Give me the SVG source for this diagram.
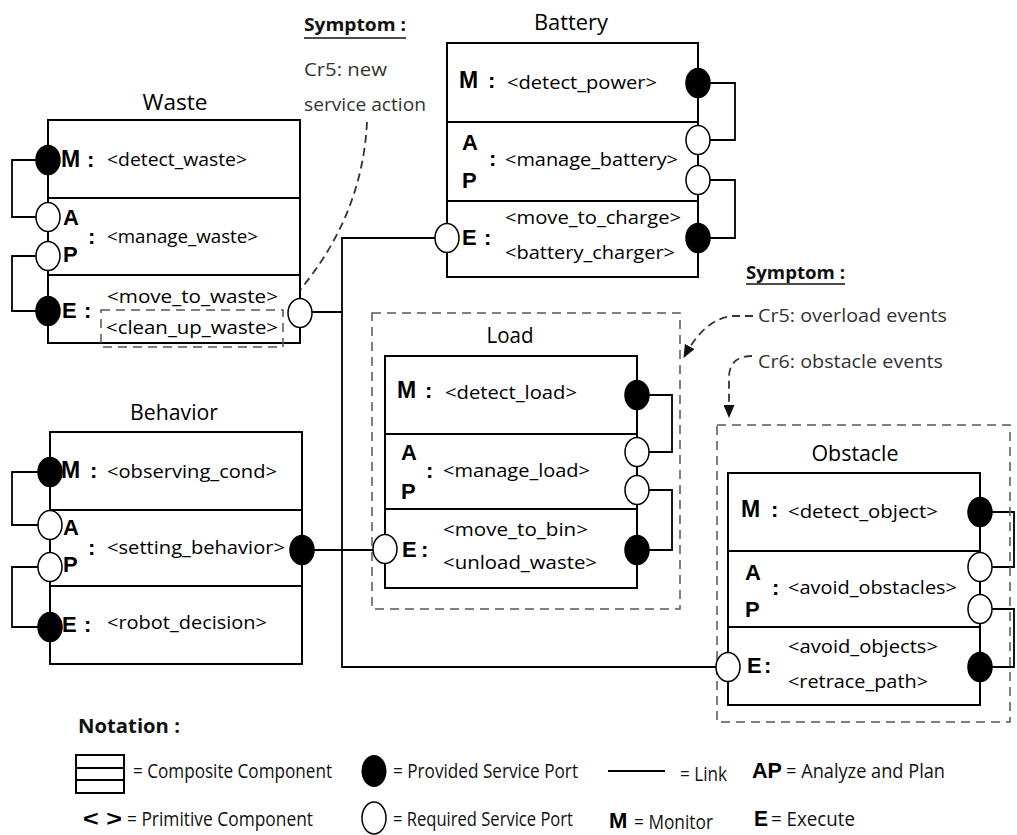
<svg xmlns="http://www.w3.org/2000/svg" width="1017" height="835" viewBox="0 0 1017 835">
<style>
.bg{fill:#fff}
.box{fill:#fff;stroke:#000;stroke-width:2}
.dv{stroke:#000;stroke-width:2}
.pf{fill:#000;stroke:#000;stroke-width:1.5}
.pr{fill:#fff;stroke:#000;stroke-width:1.5}
.ln{fill:none;stroke:#000;stroke-width:1.8}
.dbox{fill:none;stroke:#555;stroke-width:1.5;stroke-dasharray:9 6}
.arr{fill:none;stroke:#333;stroke-width:1.8;stroke-dasharray:8 5}
.t{font-family:"Open Sans","Liberation Sans",sans-serif;font-size:19px;fill:#000}
.ttl{font-family:"Open Sans","Liberation Sans",sans-serif;font-size:22px;fill:#000}
.b{font-family:"Liberation Sans",Arial,sans-serif;font-weight:bold;font-size:22px;fill:#000}
.bm{font-family:"Liberation Sans",Arial,sans-serif;font-weight:bold;font-size:23px;fill:#000}
.sy{font-family:"Open Sans","Liberation Sans",sans-serif;font-weight:bold;font-size:18px;fill:#111}
.cr{font-family:"Open Sans","Liberation Sans",sans-serif;font-size:19px;fill:#333}
.lg{font-family:"Open Sans","Liberation Sans",sans-serif;font-size:20px;fill:#111}
</style>
<defs>
<marker id="ah" markerUnits="userSpaceOnUse" markerWidth="13" markerHeight="11" viewBox="0 0 13 11" refX="12" refY="5.5" orient="auto">
<path d="M0,0 L13,5.5 L0,11 z" fill="#111" stroke="none"/>
</marker>
</defs>
<rect class="bg" x="0" y="0" width="1017" height="835"/>

<g id="connectors">
<path class="ln" d="M48,160 H12 V217 H48 M48,256 H12 V311 H48"/>
<path class="ln" d="M698,83 H735 V140 H698 M698,180 H735 V238 H698"/>
<path class="ln" d="M637,395 H672 V452 H637 M637,490 H672 V550 H637"/>
<path class="ln" d="M50,472 H12 V525 H50 M50,567 H12 V627 H50"/>
<path class="ln" d="M980,512 H1014 V567 H980 M980,609 H1014 V667 H980"/>
<path class="ln" d="M300,312 H342"/>
<path class="ln" d="M447,238 H342 V667 H728"/>
<path class="ln" d="M302,550 H385"/>
</g>

<g id="annotations">
<text class="sy" x="304" y="31" textLength="102" lengthAdjust="spacingAndGlyphs">Symptom :</text>
<line x1="304" y1="38" x2="406" y2="38" stroke="#111" stroke-width="1.5"/>
<text class="cr" x="304" y="76" textLength="83" lengthAdjust="spacingAndGlyphs">Cr5: new</text>
<text class="cr" x="304" y="111" textLength="122" lengthAdjust="spacingAndGlyphs">service action</text>
<path class="arr" d="M367,122 Q362,225 285,307" marker-end="url(#ah)"/>
<text class="sy" x="746" y="279" textLength="99" lengthAdjust="spacingAndGlyphs">Symptom :</text>
<line x1="746" y1="284" x2="845" y2="284" stroke="#111" stroke-width="1.5"/>
<text class="cr" x="758" y="322" textLength="189" lengthAdjust="spacingAndGlyphs">Cr5: overload events</text>
<text class="cr" x="758" y="368" textLength="185" lengthAdjust="spacingAndGlyphs">Cr6: obstacle events</text>
<path class="arr" d="M753,316 H733 Q705,318 684,357" marker-end="url(#ah)"/>
<path class="arr" d="M752,356 Q730,356 729,376 V417" marker-end="url(#ah)"/>
</g>

<g id="waste">
<text class="ttl" x="175" y="110" text-anchor="middle" textLength="65" lengthAdjust="spacingAndGlyphs">Waste</text>
<rect class="box" x="48" y="120" width="252" height="223"/>
<line class="dv" x1="48" y1="198" x2="300" y2="198"/>
<line class="dv" x1="48" y1="275" x2="300" y2="275"/>
<text class="bm" x="61" y="167">M</text><text class="b" x="87" y="167">:</text>
<text class="t" x="107" y="166" textLength="140" lengthAdjust="spacingAndGlyphs">&lt;detect_waste&gt;</text>
<text class="b" x="63" y="225">A</text><text class="b" x="63" y="262">P</text><text class="b" x="88" y="244">:</text>
<text class="t" x="107" y="243" textLength="151" lengthAdjust="spacingAndGlyphs">&lt;manage_waste&gt;</text>
<text class="b" x="62" y="318">E</text><text class="b" x="84" y="318">:</text>
<text class="t" x="107" y="303" textLength="171" lengthAdjust="spacingAndGlyphs">&lt;move_to_waste&gt;</text>
<text class="t" x="106" y="334" textLength="172" lengthAdjust="spacingAndGlyphs">&lt;clean_up_waste&gt;</text>
<rect class="dbox" x="101" y="310" width="182" height="37"/>
<ellipse class="pf" cx="48" cy="160" rx="12" ry="14.5"/>
<ellipse class="pr" cx="48" cy="217" rx="12" ry="14.5"/>
<ellipse class="pr" cx="48" cy="256" rx="12" ry="14.5"/>
<ellipse class="pf" cx="48" cy="311" rx="12" ry="14.5"/>
<ellipse class="pr" cx="300" cy="313" rx="12" ry="14.5"/>
</g>

<g id="battery">
<text class="ttl" x="571" y="30" text-anchor="middle" textLength="74" lengthAdjust="spacingAndGlyphs">Battery</text>
<rect class="box" x="447" y="43" width="251" height="234"/>
<line class="dv" x1="447" y1="122" x2="698" y2="122"/>
<line class="dv" x1="447" y1="201" x2="698" y2="201"/>
<text class="bm" x="459" y="88">M</text><text class="b" x="488" y="88">:</text>
<text class="t" x="507" y="89" textLength="150" lengthAdjust="spacingAndGlyphs">&lt;detect_power&gt;</text>
<text class="b" x="462" y="150">A</text><text class="b" x="462" y="188">P</text><text class="b" x="489" y="166">:</text>
<text class="t" x="505" y="166" textLength="173" lengthAdjust="spacingAndGlyphs">&lt;manage_battery&gt;</text>
<text class="b" x="462" y="245">E</text><text class="b" x="484" y="245">:</text>
<text class="t" x="505" y="224" textLength="176" lengthAdjust="spacingAndGlyphs">&lt;move_to_charge&gt;</text>
<text class="t" x="505" y="259" textLength="170" lengthAdjust="spacingAndGlyphs">&lt;battery_charger&gt;</text>
<ellipse class="pf" cx="698" cy="83" rx="12" ry="14.5"/>
<ellipse class="pr" cx="698" cy="140" rx="12" ry="14.5"/>
<ellipse class="pr" cx="698" cy="180" rx="12" ry="14.5"/>
<ellipse class="pf" cx="698" cy="238" rx="12" ry="14.5"/>
<ellipse class="pr" cx="447" cy="238" rx="12" ry="14.5"/>
</g>

<g id="load">
<rect class="dbox" x="372" y="313" width="308" height="296"/>
<text class="ttl" x="510" y="343" text-anchor="middle" textLength="47" lengthAdjust="spacingAndGlyphs">Load</text>
<rect class="box" x="385" y="356" width="252" height="232"/>
<line class="dv" x1="385" y1="434" x2="637" y2="434"/>
<line class="dv" x1="385" y1="509" x2="637" y2="509"/>
<text class="bm" x="397" y="398">M</text><text class="b" x="425" y="398">:</text>
<text class="t" x="445" y="399" textLength="132" lengthAdjust="spacingAndGlyphs">&lt;detect_load&gt;</text>
<text class="b" x="401" y="460">A</text><text class="b" x="401" y="499">P</text><text class="b" x="426" y="478">:</text>
<text class="t" x="443" y="477" textLength="147" lengthAdjust="spacingAndGlyphs">&lt;manage_load&gt;</text>
<text class="b" x="402" y="557">E</text><text class="b" x="421" y="557">:</text>
<text class="t" x="443" y="536" textLength="145" lengthAdjust="spacingAndGlyphs">&lt;move_to_bin&gt;</text>
<text class="t" x="443" y="569" textLength="154" lengthAdjust="spacingAndGlyphs">&lt;unload_waste&gt;</text>
<ellipse class="pf" cx="637" cy="395" rx="12" ry="14.5"/>
<ellipse class="pr" cx="637" cy="452" rx="12" ry="14.5"/>
<ellipse class="pr" cx="637" cy="490" rx="12" ry="14.5"/>
<ellipse class="pf" cx="637" cy="550" rx="12" ry="14.5"/>
<ellipse class="pr" cx="385" cy="549" rx="12" ry="14.5"/>
</g>

<g id="behavior">
<text class="ttl" x="174" y="420" text-anchor="middle" textLength="88" lengthAdjust="spacingAndGlyphs">Behavior</text>
<rect class="box" x="50" y="432" width="252" height="232"/>
<line class="dv" x1="50" y1="510" x2="302" y2="510"/>
<line class="dv" x1="50" y1="586" x2="302" y2="586"/>
<text class="bm" x="61" y="478">M</text><text class="b" x="90" y="478">:</text>
<text class="t" x="107" y="478" textLength="170" lengthAdjust="spacingAndGlyphs">&lt;observing_cond&gt;</text>
<text class="b" x="63" y="535">A</text><text class="b" x="63" y="572">P</text><text class="b" x="88" y="555">:</text>
<text class="t" x="107" y="554" textLength="178" lengthAdjust="spacingAndGlyphs">&lt;setting_behavior&gt;</text>
<text class="b" x="62" y="632">E</text><text class="b" x="84" y="632">:</text>
<text class="t" x="107" y="629" textLength="160" lengthAdjust="spacingAndGlyphs">&lt;robot_decision&gt;</text>
<ellipse class="pf" cx="50" cy="472" rx="12" ry="14.5"/>
<ellipse class="pr" cx="50" cy="525" rx="12" ry="14.5"/>
<ellipse class="pr" cx="50" cy="567" rx="12" ry="14.5"/>
<ellipse class="pf" cx="50" cy="627" rx="12" ry="14.5"/>
<ellipse class="pf" cx="302" cy="550" rx="12" ry="14.5"/>
</g>

<g id="obstacle">
<rect class="dbox" x="717" y="425" width="293" height="297"/>
<text class="ttl" x="855" y="461" text-anchor="middle" textLength="87" lengthAdjust="spacingAndGlyphs">Obstacle</text>
<rect class="box" x="728" y="473" width="252" height="232"/>
<line class="dv" x1="728" y1="551" x2="980" y2="551"/>
<line class="dv" x1="728" y1="627" x2="980" y2="627"/>
<text class="bm" x="741" y="517">M</text><text class="b" x="771" y="517">:</text>
<text class="t" x="788" y="518" textLength="150" lengthAdjust="spacingAndGlyphs">&lt;detect_object&gt;</text>
<text class="b" x="745" y="580">A</text><text class="b" x="745" y="617">P</text><text class="b" x="772" y="595">:</text>
<text class="t" x="788" y="594" textLength="169" lengthAdjust="spacingAndGlyphs">&lt;avoid_obstacles&gt;</text>
<text class="b" x="747" y="673">E</text><text class="b" x="764" y="673">:</text>
<text class="t" x="788" y="653" textLength="150" lengthAdjust="spacingAndGlyphs">&lt;avoid_objects&gt;</text>
<text class="t" x="788" y="688" textLength="140" lengthAdjust="spacingAndGlyphs">&lt;retrace_path&gt;</text>
<ellipse class="pf" cx="980" cy="512" rx="12" ry="14.5"/>
<ellipse class="pr" cx="980" cy="567" rx="12" ry="14.5"/>
<ellipse class="pr" cx="980" cy="609" rx="12" ry="14.5"/>
<ellipse class="pf" cx="980" cy="667" rx="12" ry="14.5"/>
<ellipse class="pr" cx="728" cy="667" rx="12" ry="14.5"/>
</g>

<g id="legend">
<text class="lg" x="78" y="733" font-weight="bold" font-size="21" textLength="102" lengthAdjust="spacingAndGlyphs">Notation :</text>
<rect x="76" y="755" width="48" height="38" fill="#fff" stroke="#000" stroke-width="2"/>
<line x1="76" y1="768" x2="124" y2="768" stroke="#000" stroke-width="2"/>
<line x1="76" y1="780" x2="124" y2="780" stroke="#000" stroke-width="2"/>
<text class="lg" x="133" y="778" textLength="199" lengthAdjust="spacingAndGlyphs">= Composite Component</text>
<ellipse cx="374" cy="771" rx="12.5" ry="16" fill="#000"/>
<text class="lg" x="393" y="778" font-size="18" textLength="185" lengthAdjust="spacingAndGlyphs">= Provided Service Port</text>
<line x1="608" y1="771" x2="665" y2="771" stroke="#000" stroke-width="2"/>
<text class="lg" x="680" y="781" textLength="47" lengthAdjust="spacingAndGlyphs">= Link</text>
<text class="b" x="752" y="778" textLength="30" lengthAdjust="spacingAndGlyphs">AP</text>
<text class="lg" x="786" y="778" textLength="159" lengthAdjust="spacingAndGlyphs">= Analyze and Plan</text>
<text class="b" x="83" y="826" font-size="20" textLength="39" lengthAdjust="spacingAndGlyphs">&lt; &gt;</text>
<text class="lg" x="127" y="826" textLength="186" lengthAdjust="spacingAndGlyphs">= Primitive Component</text>
<ellipse cx="374" cy="818" rx="12" ry="16" fill="#fff" stroke="#000" stroke-width="1.5"/>
<text class="lg" x="393" y="826" font-size="17" textLength="180" lengthAdjust="spacingAndGlyphs">= Required Service Port</text>
<text class="b" x="609" y="828">M</text>
<text class="lg" x="634" y="829" textLength="79" lengthAdjust="spacingAndGlyphs">= Monitor</text>
<text class="b" x="754" y="826" textLength="14" lengthAdjust="spacingAndGlyphs">E</text>
<text class="lg" x="771" y="826" textLength="84" lengthAdjust="spacingAndGlyphs">= Execute</text>
</g>
</svg>
